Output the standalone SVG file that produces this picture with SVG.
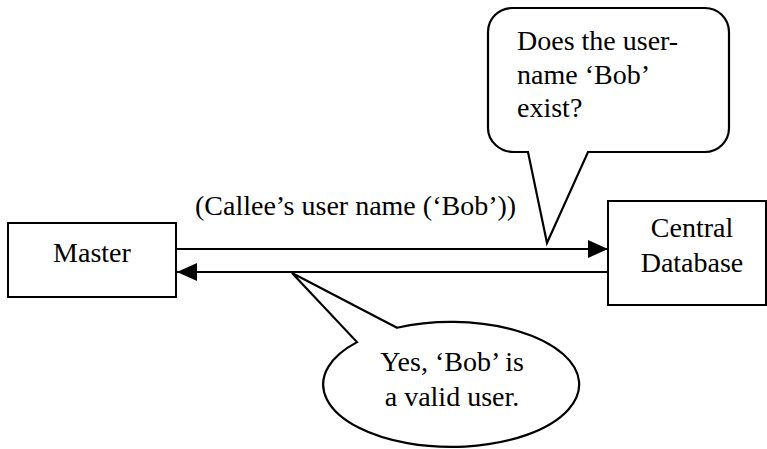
<svg xmlns="http://www.w3.org/2000/svg" width="767" height="449" viewBox="0 0 767 449" font-family="Liberation Serif, Times New Roman, DejaVu Serif, serif" font-size="28">
<style>
.box{fill:#fff;stroke:#000;stroke-width:2}
.callout{fill:#fff;stroke:#000;stroke-width:2.2;stroke-linejoin:miter}
.c{text-anchor:middle}
.line{stroke:#000;stroke-width:2;fill:none}
</style>
<defs>
<marker id="ah" markerWidth="20" markerHeight="18" refX="20" refY="9" orient="auto" markerUnits="userSpaceOnUse">
<path d="M0,0 L20,9 L0,18 Z" fill="#000"/>
</marker>
</defs>
<rect width="767" height="449" fill="#fff"/>
<g id="master">
<rect class="box" x="8" y="223" width="168" height="74"/>
<text class="c" x="92" y="262">Master</text>
</g>
<g id="central-database">
<rect class="box" x="608" y="201" width="158" height="104"/>
<text class="c" x="692" y="237">Central</text>
<text class="c" x="692" y="272">Database</text>
</g>
<g id="connectors">
<line class="line" x1="176" y1="249" x2="608" y2="249" marker-end="url(#ah)"/>
<line class="line" x1="608" y1="272" x2="177" y2="272" marker-end="url(#ah)"/>
<text x="195" y="215">(Callee’s user name (‘Bob’))</text>
</g>
<g id="callout-question">
<path class="callout" d="M512,8 H705 A24,24 0 0 1 729,32 V128 A24,24 0 0 1 705,152 H588 L547,243 L528,152 H514 A26,24 0 0 1 488,128 V32 A24,24 0 0 1 512,8 Z"/>
<text x="517" y="50">Does the user-</text>
<text x="517" y="83.5">name ‘Bob’</text>
<text x="517" y="117">exist?</text>
</g>
<g id="callout-answer">
<path class="callout" d="M397,327.8 L292,273 L357,342.1 A128,62.5 0 1 0 397,327.8 Z"/>
<text class="c" x="452" y="371">Yes, ‘Bob’ is</text>
<text class="c" x="452" y="406">a valid user.</text>
</g>
</svg>
